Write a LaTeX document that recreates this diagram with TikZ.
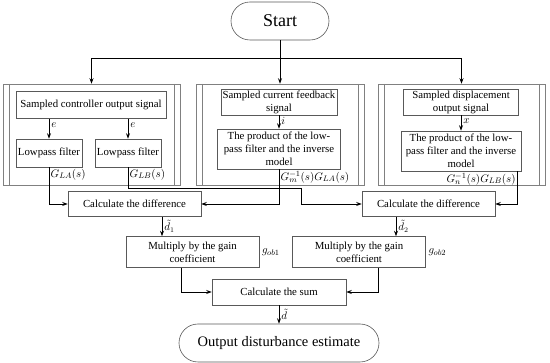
\documentclass[tikz,border=0pt]{standalone}
\usepackage{fontspec}
\setmainfont{Liberation Serif}
\usepackage{amsmath}
\usepackage{tikz}
\usetikzlibrary{arrows.meta, positioning, calc}

\begin{document}
\begin{tikzpicture}[x=1pt, y=-1pt,
        box/.style={
            rectangle, draw=black!65, line width=0.6pt, fill=white,
            align=center, inner sep=1.5pt,
            font=\fontsize{10.8}{13}\selectfont
        },
        termBox/.style={
            rectangle, rounded corners=19pt, draw=black!65, line width=0.6pt,
            minimum height=38pt, align=center
        },
        groupBox/.style={
            rectangle, draw=black!50, line width=0.5pt, minimum height=101pt,
            path picture={
                \draw[black!50, line width=0.5pt]
                    ([xshift=6pt]path picture bounding box.north west) -- ([xshift=6pt]path picture bounding box.south west)
                    ([xshift=-6pt]path picture bounding box.north east) -- ([xshift=-6pt]path picture bounding box.south east);
            }
        },
        lab/.style={inner sep=1.5pt, font=\fontsize{10.8}{13}\selectfont},
        sig/.style={inner sep=0pt, anchor=west, xshift=2pt, font=\fontsize{10.5}{12}\selectfont},
        arrow/.style={
            line width=0.8pt, ->, >={Stealth[length=5.5pt, width=4pt]}, draw=black
        }
    ]
        \useasboundingbox (0,0) rectangle (550,363);

        % Terminals
        \node (start) [termBox, minimum width=98pt, font=\fontsize{18}{20}\selectfont] at (280,21) {Start};
        \node (out) [termBox, minimum width=200pt, font=\fontsize{14.5}{16}\selectfont] at (279,343) {Output disturbance estimate};

        % Signal groups
        \node (grpA) [groupBox, minimum width=177pt] at (91.5,134.5) {};
        \node (grpB) [groupBox, minimum width=168pt] at (280,134.5) {};
        \node (grpC) [groupBox, minimum width=167pt] at (461.5,134.5) {};

        % Group A nodes
        \node (sampA) [box, minimum width=150pt, minimum height=27pt] at (91,105) {Sampled controller output signal};
        \node (lpA) [box, minimum width=66pt, minimum height=28pt] at (49,153) {Lowpass filter};
        \node (lpB) [box, minimum width=66pt, minimum height=28pt] at (128,153) {Lowpass filter};
        \node (gLA) [lab, anchor=north west] at (lpA.south) {$G_{LA}(s)$};
        \node (gLB) [lab, anchor=north west] at (lpB.south) {$G_{LB}(s)$};

        % Group B nodes
        \node (sampB) [box, minimum width=116pt, minimum height=26pt] at (279,102) {Sampled current feedback\\signal};
        \node (prodB) [box, minimum width=123pt, minimum height=40pt] at (279,149) {The product of the low-\\pass filter and the inverse\\model};
        \node (gmB) [lab, anchor=north west] at (prodB.south) {$G_m^{-1}(s)G_{LA}(s)$};

        % Group C nodes
        \node (sampC) [box, minimum width=115pt, minimum height=26pt] at (461,102) {Sampled displacement\\output signal};
        \node (prodC) [box, minimum width=120pt, minimum height=40pt] at (461,151) {The product of the low-\\pass filter and the inverse\\model};
        \node (gnC) [lab, anchor=north east] at ([xshift=-4pt]prodC.south east) {$G_n^{-1}(s)G_{LB}(s)$};

        % Estimation nodes
        \node (diffA) [box, minimum width=133pt, minimum height=25pt] at (134.5,204) {Calculate the difference};
        \node (diffB) [box, minimum width=133pt, minimum height=25pt] at (428.5,204) {Calculate the difference};
        \node (mulA) [box, minimum width=133pt, minimum height=31pt] at (192.5,252) {Multiply by the gain\\coefficient};
        \node (mulB) [box, minimum width=133pt, minimum height=31pt] at (359,252) {Multiply by the gain\\coefficient};
        \node (gob1) [lab, right=1pt of mulA] {$g_{ob1}$};
        \node (gob2) [lab, right=1pt of mulB] {$g_{ob2}$};
        \node (sum) [box, minimum width=134pt, minimum height=26pt] at (279,292) {Calculate the sum};

        \coordinate (fork) at (280,58);
        \coordinate (jog) at (301,188);

        % Connectors
        \draw [arrow] (start) -- (grpB);
        \draw [arrow] (fork) -| (grpA.north);
        \draw [arrow] (fork) -| (grpC.north);
        \draw [arrow] (sampA.south -| lpA) -- (lpA) node [sig, pos=0.3] {$e$};
        \draw [arrow] (sampA.south -| lpB) -- (lpB) node [sig, pos=0.3] {$e$};
        \draw [arrow] (sampB) -- (prodB) node [sig, pos=0.4] {$i$};
        \draw [arrow] (sampC) -- (prodC) node [sig, pos=0.4] {$x$};
        \draw [arrow] (lpA.south) |- (diffA.west);
        \draw [arrow] (lpB.south) |- (jog) |- (diffB.west);
        \draw [arrow] (prodB.south) |- (diffA.east);
        \draw [arrow] ([xshift=-4pt]prodC.south east) |- (diffB.east);
        \draw [arrow] ([xshift=27.5pt]diffA.south) -- ([xshift=27.5pt]diffA.south |- mulA.north) node [sig, pos=0.5] {$\tilde{d}_1$};
        \draw [arrow] ([xshift=-32.5pt]diffB.south) -- ([xshift=-32.5pt]diffB.south |- mulB.north) node [sig, pos=0.5] {$\tilde{d}_2$};
        \draw [arrow] ([xshift=-11.5pt]mulA.south) |- (sum.west);
        \draw [arrow] ([xshift=19pt]mulB.south) |- (sum.east);
        \draw [arrow] (sum) -- (out) node [sig, pos=0.5] {$\tilde{d}$};
    \end{tikzpicture}
\end{document}
